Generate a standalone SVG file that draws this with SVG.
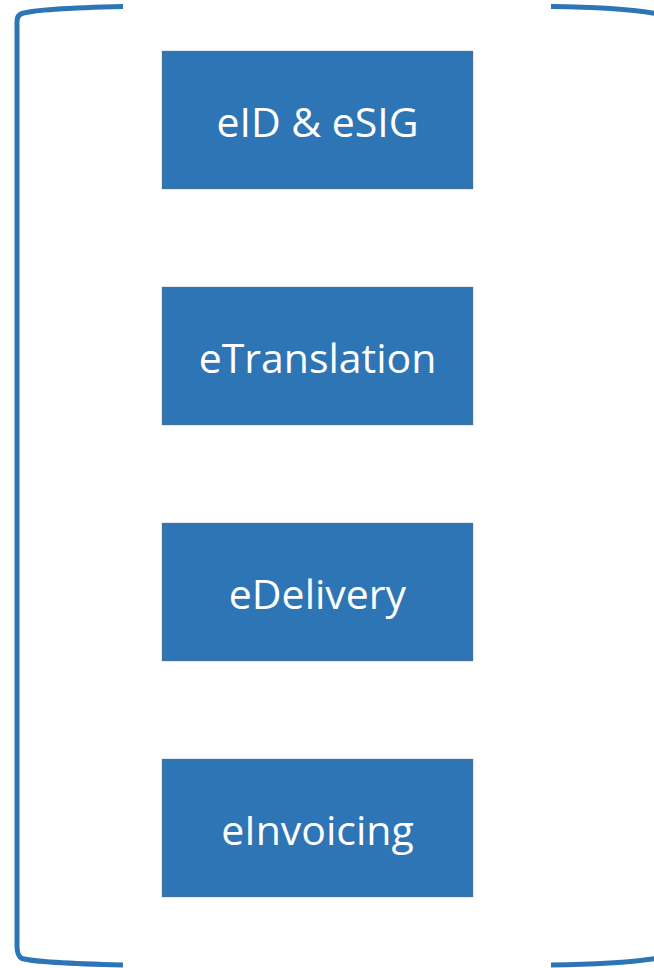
<svg xmlns="http://www.w3.org/2000/svg" width="654" height="968" viewBox="0 0 654 968">
<style>
.box{fill:#2E75B6;stroke:#41719C;stroke-width:1.3}
.lbl{font-family:"Open Sans","DejaVu Sans",sans-serif;font-size:41px;fill:#FFFFFF;text-anchor:middle;dominant-baseline:central}
.br{fill:none;stroke:#2E75B6;stroke-width:5;stroke-linecap:butt}
</style>
<rect width="654" height="968" fill="#FFFFFF"/>
<g id="brackets">
<path class="br" d="M123,6.5 C80,7.5 35,9.5 22,13.5 Q17,15 17,22 L17,946 Q17,956 22,958.5 C35,962 80,964 123,965"/>
<path class="br" d="M551,6.5 C600,7 630,9 656,13.5"/>
<path class="br" d="M551,965 C600,964.5 630,962.5 656,958.5"/>
</g>
<g id="connectors"/>
<g id="n1"><rect class="box" x="162.5" y="51.5" width="310" height="137"/><text class="lbl" x="317.5" y="121">eID &amp; eSIG</text></g>
<g id="n2"><rect class="box" x="162.5" y="287.5" width="310" height="137"/><text class="lbl" x="317.5" y="357">eTranslation</text></g>
<g id="n3"><rect class="box" x="162.5" y="523.5" width="310" height="137"/><text class="lbl" x="317.5" y="593">eDelivery</text></g>
<g id="n4"><rect class="box" x="162.5" y="759.5" width="310" height="137"/><text class="lbl" x="317.5" y="829">eInvoicing</text></g>
</svg>
